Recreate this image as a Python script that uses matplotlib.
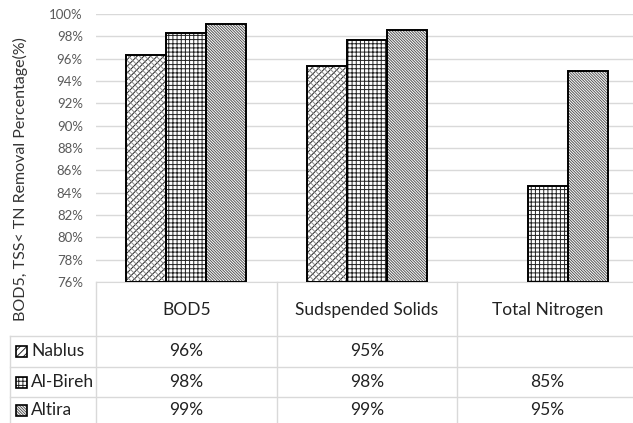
import numpy as np
import matplotlib
matplotlib.use("Agg")
import matplotlib.pyplot as plt
from matplotlib.patches import Rectangle
from matplotlib.transforms import blended_transform_factory

plt.rcParams["font.family"] = ["Lato", "DejaVu Sans"]
plt.rcParams["hatch.linewidth"] = 0.7

categories = ["BOD5", "Sudspended Solids", "Total Nitrogen"]
sites = ["Nablus", "Al-Bireh", "Altira"]
nablus = [96.3, 95.3, np.nan]
al_bireh = [98.3, 97.7, 84.6]
altira = [99.1, 98.6, 94.9]
series = [nablus, al_bireh, altira]
yticks = list(range(76, 101, 2))

# hatch: (pattern, hatch colour, second pattern, second colour)
styles = [("/////", "#222222", "\\\\\\\\\\\\", "#8a8a8a"),
          ("++++", "#222222", None, None),
          ("\\" * 12, "#555555", None, None)]

W, H = 633, 423
fig = plt.figure(figsize=(W / 100, H / 100), dpi=100)

# plot area in pixel units (top-left origin)
left, right, top, bottom = 96, 638, 14, 282
ax = fig.add_axes([left / W, 1 - bottom / H, (right - left) / W, (bottom - top) / H])

x = np.arange(len(categories))
bw = 0.222
y0 = yticks[0]
for i, (vals, st) in enumerate(zip(series, styles)):
    xs = x + (i - 1) * bw
    v = np.array(vals, dtype=float)
    ok = ~np.isnan(v)
    h = v[ok] - y0
    ax.bar(xs[ok], h, bw, bottom=y0, color="white", edgecolor=st[1],
           hatch=st[0], linewidth=0, zorder=2)
    if st[2]:
        ax.bar(xs[ok], h, bw, bottom=y0, color="none", edgecolor=st[3],
               hatch=st[2], linewidth=0, zorder=2)
    ax.bar(xs[ok], h, bw, bottom=y0, color="none", edgecolor="black",
           linewidth=1.4, zorder=3)

ax.set_xlim(-0.5, 2.5)
ax.set_ylim(76, 100)
ax.set_yticks(yticks)
ax.set_yticklabels([f"{t}%" for t in yticks], color="#595959", fontsize=9.5)
ax.set_xticks([])
ax.grid(axis="y", color="#d9d9d9", linewidth=1)
ax.set_axisbelow(True)
ax.tick_params(axis="y", length=0, pad=9.5)
for s in ["left", "right", "top"]:
    ax.spines[s].set_visible(False)
ax.spines["bottom"].set_color("#d9d9d9")

fig.text(20 / W, 1 - 179 / H, "BOD5, TSS< TN Removal Percentage(%)",
         rotation=90, ha="center", va="center", fontsize=11.5, color="#333333")

# data table underneath the chart
tf = fig.transFigure
bt = blended_transform_factory(ax.transData, tf)
line_kw = dict(color="#d9d9d9", linewidth=1, transform=tf, clip_on=False)

def fy(py):
    return 1 - py / H

row_lines = [336, 367, 397]
for py in row_lines:
    fig.add_artist(plt.Line2D([10 / W, 1], [fy(py), fy(py)], **line_kw))
fig.add_artist(plt.Line2D([10 / W, 10 / W], [fy(336), 0], **line_kw))
for px in [96, 276.5, 457]:
    fig.add_artist(plt.Line2D([px / W, px / W], [fy(282), 0], **line_kw))

for xi, cat in zip(x, categories):
    fig.text(xi, fy(310), cat, transform=bt, ha="center", va="center",
             fontsize=12.5, color="#222222")

row_y = [351, 382, 410]
for ry, name, vals, st in zip(row_y, sites, series, styles):
    for xi, v in zip(x, vals):
        if not np.isnan(v):
            fig.text(xi, fy(ry), f"{v:.0f}%", transform=bt, ha="center",
                     va="center", fontsize=12.5, color="#222222")
    # legend key
    kx, ks = 16, 11
    fig.add_artist(Rectangle((kx / W, fy(ry + ks / 2)), ks / W, ks / H,
                             transform=tf, facecolor="white", edgecolor=st[1],
                             hatch=st[0], linewidth=0))
    fig.add_artist(Rectangle((kx / W, fy(ry + ks / 2)), ks / W, ks / H,
                             transform=tf, facecolor="none", edgecolor="black",
                             linewidth=1.2))
    fig.text(31 / W, fy(ry), name, ha="left", va="center", fontsize=12.5,
             color="#222222")

fig.savefig("out.png", dpi=100)
